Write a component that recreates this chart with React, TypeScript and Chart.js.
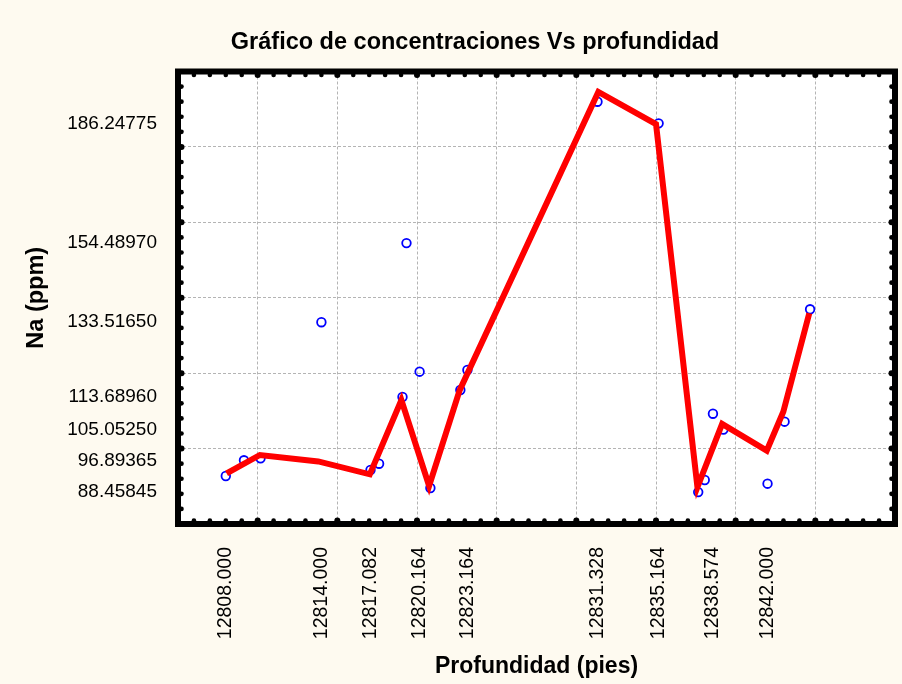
import React, { useEffect, useRef } from "react";
import { Chart, registerables } from "chart.js";

Chart.register(...registerables);

// Observed samples: depth (ft) and Na (ppm)
const depthValues = [
  12808.0, 12809.14, 12810.18, 12814.0, 12817.082, 12817.62, 12819.09, 12819.34,
  12820.164, 12820.84, 12822.72, 12823.164, 12831.328, 12835.164, 12837.65,
  12838.06, 12838.574, 12839.23, 12842.0, 12843.07, 12844.67,
];
const naValues = [
  92.73, 96.89365, 97.42, 133.5165, 94.32, 95.99, 113.6896, 154.4897,
  120.39, 89.55, 115.53, 120.84, 191.99, 186.24775, 88.45845,
  91.67, 109.25, 105.0525, 90.69, 107.13, 136.94,
];

// Fitted (red) line vertices
const fitDepth = [
  12808.05, 12810.14, 12813.8, 12817.04, 12819.02, 12820.76, 12822.68,
  12831.38, 12835.0, 12837.6, 12839.15, 12841.95, 12842.99, 12844.62,
];
const fitNa = [
  93.44, 98.3, 96.6, 93.18, 112.88, 90.1, 115.5,
  194.6, 186.07, 89.8, 106.52, 99.44, 109.78, 135.87,
];

// Axis tick labels
const xTickValues = [12808.0, 12814.0, 12817.082, 12820.164, 12823.164, 12831.328, 12835.164, 12838.574, 12842.0];
const xTickLabels = ["12808.000", "12814.000", "12817.082", "12820.164", "12823.164", "12831.328", "12835.164", "12838.574", "12842.000"];
const yTickValues = [186.24775, 154.4897, 133.5165, 113.6896, 105.0525, 96.89365, 88.45845];
const yTickLabels = ["186.24775", "154.48970", "133.51650", "113.68960", "105.05250", "96.89365", "88.45845"];

const X_MIN = 12805;
const X_MAX = 12850;
const Y_MIN = 80;
const Y_MAX = 200;

const FONT = "'Liberation Sans', Arial, Helvetica, sans-serif";

const framePlugin = {
  id: "frame",
  beforeDraw(chart: any) {
    const { ctx, chartArea: a, width, height } = chart;
    ctx.save();
    ctx.fillStyle = "#FEFAF0";
    ctx.fillRect(0, 0, width, height);
    ctx.fillStyle = "#FFFFFF";
    ctx.fillRect(a.left, a.top, a.right - a.left, a.bottom - a.top);
    ctx.restore();
  },
  afterDraw(chart: any) {
    const { ctx, chartArea: a, scales } = chart;
    const xs = scales.x;
    const ys = scales.y;
    ctx.save();
    ctx.strokeStyle = "#000000";
    ctx.lineWidth = 6;
    ctx.lineJoin = "miter";
    ctx.strokeRect(a.left, a.top, a.right - a.left, a.bottom - a.top);
    ctx.fillStyle = "#000000";
    const dot = (x: number, y: number, r: number) => {
      ctx.beginPath();
      ctx.arc(x, y, r, 0, Math.PI * 2);
      ctx.fill();
    };
    for (let v = X_MIN + 1; v < X_MAX; v += 1) {
      const px = xs.getPixelForValue(v);
      const r = v % 5 === 0 ? 3 : 2.3;
      dot(px, a.top + 3.5, r);
      dot(px, a.bottom - 3.5, r);
    }
    for (let v = Y_MIN + 4; v < Y_MAX; v += 4) {
      const py = ys.getPixelForValue(v);
      const r = v % 20 === 0 ? 3 : 2.3;
      dot(a.left + 3.5, py, r);
      dot(a.right - 3.5, py, r);
    }
    ctx.restore();
  },
};

export default function App() {
  const ref = useRef<HTMLCanvasElement | null>(null);

  useEffect(() => {
    document.body.style.margin = "0";
    const canvas = ref.current;
    if (!canvas) return;

    const samples = depthValues.map((d, i) => ({ x: d, y: naValues[i] }));
    const fit = fitDepth.map((d, i) => ({ x: d, y: fitNa[i] }));

    const gridColor = "#B4B4B4";
    const PAD_LEFT = 55;

    const chart = new Chart(canvas, {
      type: "scatter",
      data: {
        datasets: [
          {
            label: "Ajuste",
            data: fit,
            showLine: true,
            borderColor: "#FF0000",
            backgroundColor: "#FF0000",
            borderWidth: 6,
            pointRadius: 0,
            pointHoverRadius: 0,
            order: 0,
          },
          {
            label: "Na",
            data: samples,
            showLine: false,
            pointStyle: "circle",
            pointRadius: 4.3,
            pointBorderWidth: 1.8,
            borderColor: "#0000FF",
            backgroundColor: "rgba(0,0,0,0)",
            pointBorderColor: "#0000FF",
            pointBackgroundColor: "rgba(0,0,0,0)",
            order: 1,
          },
        ],
      },
      options: {
        animation: false,
        responsive: false,
        devicePixelRatio: 1,
        layout: { padding: { left: PAD_LEFT, right: 7, top: 0, bottom: 0 } },
        plugins: {
          legend: { display: false },
          tooltip: { enabled: false },
          title: {
            display: true,
            text: "Gráfico de concentraciones Vs profundidad",
            color: "#000000",
            font: { family: FONT, size: 23.5, weight: "bold" },
            padding: { top: 28, bottom: 15.3 },
          },
        },
        scales: {
          x: {
            type: "linear",
            position: "bottom",
            min: X_MIN,
            max: X_MAX,
            afterBuildTicks: (scale: any) => {
              scale.ticks = xTickValues.map((v) => ({ value: v }));
            },
            afterFit: (scale: any) => {
              scale.height = 160;
            },
            ticks: {
              autoSkip: false,
              minRotation: 90,
              maxRotation: 90,
              padding: 23,
              color: "#000000",
              font: { family: FONT, size: 19.5 },
              callback: (value: any, index: number) => xTickLabels[index] ?? String(value),
            },
            grid: { display: false, drawTicks: false },
            border: { display: false },
            title: {
              display: true,
              text: "Profundidad (pies)",
              color: "#000000",
              font: { family: FONT, size: 23, weight: "bold" },
              padding: { top: 0, bottom: 3.5 },
            },
          },
          xg: {
            type: "linear",
            position: "bottom",
            min: X_MIN,
            max: X_MAX,
            afterFit: (scale: any) => {
              scale.height = 0;
            },
            ticks: { display: false, stepSize: 5 },
            grid: { color: gridColor, lineWidth: 1, drawTicks: false },
            border: { display: false, dash: [3, 2] },
          },
          y: {
            type: "linear",
            position: "left",
            min: Y_MIN,
            max: Y_MAX,
            afterBuildTicks: (scale: any) => {
              scale.ticks = yTickValues.map((v) => ({ value: v }));
            },
            afterFit: (scale: any) => {
              scale.width = 178 - PAD_LEFT;
            },
            ticks: {
              autoSkip: false,
              padding: 21,
              color: "#000000",
              font: { family: FONT, size: 19 },
              callback: (value: any, index: number) => yTickLabels[index] ?? String(value),
            },
            grid: { display: false, drawTicks: false },
            border: { display: false },
            title: {
              display: true,
              text: "Na (ppm)",
              color: "#000000",
              font: { family: FONT, size: 23.5, weight: "bold" },
              padding: { top: 37 - PAD_LEFT - 14.1, bottom: 0 },
            },
          },
          yg: {
            type: "linear",
            position: "left",
            min: Y_MIN,
            max: Y_MAX,
            afterFit: (scale: any) => {
              scale.width = 0;
            },
            ticks: { display: false, stepSize: 20 },
            grid: { color: gridColor, lineWidth: 1, drawTicks: false },
            border: { display: false, dash: [3, 2] },
          },
        },
      } as any,
      plugins: [framePlugin],
    });

    return () => {
      chart.destroy();
    };
  }, []);

  return (
    <canvas
      ref={ref}
      width={902}
      height={684}
      style={{ display: "block", width: "902px", height: "684px" }}
    />
  );
}
